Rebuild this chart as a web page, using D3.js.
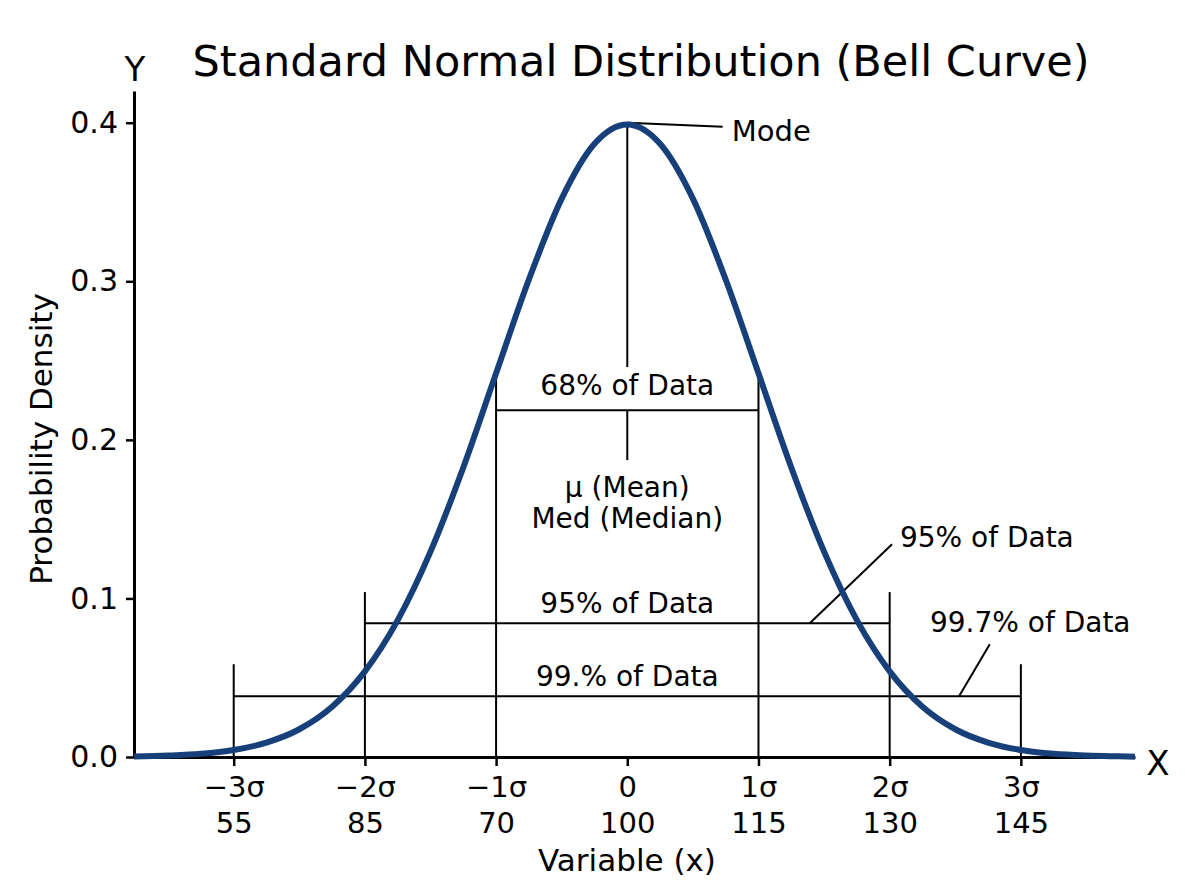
<!DOCTYPE html>
<html>
<head>
<meta charset="utf-8">
<script src="https://cdn.jsdelivr.net/npm/d3@7"></script>
<style>
  body { margin: 0; background: #fff; }
  svg text { font-family: "DejaVu Sans", sans-serif; fill: #000; }
</style>
</head>
<body>
<div id="bellCurve"></div>
<script>
// curve samples (sigma units, density)
const curveX = [-3.76, -3.5, -3.25, -3, -2.75, -2.5, -2.25, -2, -1.75, -1.5, -1.25, -1, -0.75, -0.5, -0.25,
                0, 0.25, 0.5, 0.75, 1, 1.25, 1.5, 1.75, 2, 2.25, 2.5, 2.75, 3, 3.25, 3.5, 3.75, 3.87];
const curveY = [0.0003, 0.0009, 0.0020, 0.0044, 0.0091, 0.0175, 0.0317, 0.0540, 0.0863, 0.1295, 0.1826, 0.2420, 0.3011, 0.3521, 0.3867,
                0.3989, 0.3867, 0.3521, 0.3011, 0.2420, 0.1826, 0.1295, 0.0863, 0.0540, 0.0317, 0.0175, 0.0091, 0.0044, 0.0020, 0.0009, 0.0004, 0.0002];

// x ticks
const sigmaTicks = [-3, -2, -1, 0, 1, 2, 3];
const sigmaLabels = ["\u22123\u03c3", "\u22122\u03c3", "\u22121\u03c3", "0", "1\u03c3", "2\u03c3", "3\u03c3"];
const valueLabels = ["55", "85", "70", "100", "115", "130", "145"];
const yTicks = [0, 0.1, 0.2, 0.3, 0.4];

// bracket bands: range, height of the bar, height of the end posts
const bandLo = [-1, -2, -3];
const bandHi = [1, 2, 3];
const bandBar = [0.2187, 0.0844, 0.0383];
const bandPost = [0.2420, 0.1040, 0.0585];
const bandLabels = ["68% of Data", "95% of Data", "99.% of Data"];
const bandLabelY = [0.2283, 0.0909, 0.0447];

const width = 1200, height = 896;
const margin = {top: 91, right: 65, bottom: 139, left: 134};

const svg = d3.select("#bellCurve")
  .append("svg")
  .attr("width", width)
  .attr("height", height);

const x = d3.scaleLinear()
  .domain([-3.76, 3.87])
  .range([margin.left, width - margin.right]);

const y = d3.scaleLinear()
  .domain([0, 0.42])
  .range([height - margin.bottom, margin.top]);

// title
svg.append("text")
  .attr("x", 641)
  .attr("y", 76)
  .attr("text-anchor", "middle")
  .style("font-size", "43px")
  .text("Standard Normal Distribution (Bell Curve)");

// Y axis
const yAxis = svg.append("g")
  .attr("transform", `translate(${margin.left}, 0)`)
  .call(d3.axisLeft(y).tickValues(yTicks).tickFormat(d3.format(".1f")).tickSize(8).tickSizeOuter(0).tickPadding(8));
yAxis.select(".domain").attr("stroke-width", 3);
yAxis.selectAll(".tick line").attr("stroke-width", 2.5);
yAxis.selectAll(".tick text").style("font-size", "30px").attr("font-family", null);

// X axis
const xAxis = svg.append("g")
  .attr("transform", `translate(0, ${height - margin.bottom})`)
  .call(d3.axisBottom(x).tickValues(sigmaTicks).tickSize(9).tickSizeOuter(0).tickFormat(""));
xAxis.select(".domain").attr("stroke-width", 3);
xAxis.selectAll(".tick line").attr("stroke-width", 2.5);
xAxis.selectAll(".tick text").remove();
xAxis.selectAll(".tick").each(function(d, i) {
  const t = d3.select(this).append("text")
    .attr("text-anchor", "middle")
    .style("font-size", "29px");
  t.append("tspan").attr("x", 0).attr("y", 40).text(sigmaLabels[i]);
  t.append("tspan").attr("x", 0).attr("y", 76).text(valueLabels[i]);
});

// axis labels
svg.append("text")
  .attr("x", 627)
  .attr("y", 871)
  .attr("text-anchor", "middle")
  .style("font-size", "31px")
  .text("Variable (x)");

svg.append("text")
  .attr("transform", `translate(52, 439) rotate(-90)`)
  .attr("text-anchor", "middle")
  .style("font-size", "31px")
  .text("Probability Density");

svg.append("text")
  .attr("x", margin.left + 1)
  .attr("y", 81)
  .attr("text-anchor", "middle")
  .style("font-size", "34px")
  .text("Y");

svg.append("text")
  .attr("x", 1158)
  .attr("y", 775)
  .attr("text-anchor", "middle")
  .style("font-size", "34px")
  .text("X");

// brackets
const ann = svg.append("g").attr("stroke", "#000").attr("stroke-width", 2);

bandLo.forEach(function(lo, i) {
  ann.append("line")
    .attr("x1", x(lo)).attr("x2", x(bandHi[i]))
    .attr("y1", y(bandBar[i])).attr("y2", y(bandBar[i]));
  [lo, bandHi[i]].forEach(function(v) {
    ann.append("line")
      .attr("x1", x(v)).attr("x2", x(v))
      .attr("y1", y(0)).attr("y2", y(bandPost[i]));
  });
  svg.append("text")
    .attr("x", x(0))
    .attr("y", y(bandLabelY[i]))
    .attr("text-anchor", "middle")
    .style("font-size", "28px")
    .text(bandLabels[i]);
});

// mean line (two pieces around the 68% label)
ann.append("line")
  .attr("x1", x(0)).attr("x2", x(0))
  .attr("y1", y(0.3989)).attr("y2", y(0.2459));
ann.append("line")
  .attr("x1", x(0)).attr("x2", x(0))
  .attr("y1", y(0.2187)).attr("y2", y(0.1872));

// leader lines
ann.append("line")
  .attr("x1", x(0)).attr("y1", y(0.3999))
  .attr("x2", x(0.727)).attr("y2", y(0.3974));
ann.append("line")
  .attr("x1", x(1.391)).attr("y1", y(0.0844))
  .attr("x2", x(2.018)).attr("y2", y(0.1342));
ann.append("line")
  .attr("x1", x(2.529)).attr("y1", y(0.0383))
  .attr("x2", x(2.763)).attr("y2", y(0.0711));

svg.append("text")
  .attr("x", x(0.796)).attr("y", y(0.3886))
  .style("font-size", "29px")
  .text("Mode");

const meanText = svg.append("text")
  .attr("text-anchor", "middle")
  .style("font-size", "28px");
meanText.append("tspan").attr("x", x(0)).attr("y", y(0.1640)).text("\u03bc (Mean)");
meanText.append("tspan").attr("x", x(0)).attr("y", y(0.1444)).text("Med (Median)");

svg.append("text")
  .attr("x", x(2.078)).attr("y", y(0.1325))
  .style("font-size", "28px")
  .text("95% of Data");

svg.append("text")
  .attr("x", x(2.307)).attr("y", y(0.0789))
  .style("font-size", "28px")
  .text("99.7% of Data");

// bell curve
const pts = curveX.map((d, i) => [d, curveY[i]]);
svg.append("path")
  .datum(pts)
  .attr("fill", "none")
  .attr("stroke", "#17407a")
  .attr("stroke-width", 6)
  .attr("d", d3.line()
    .x(d => x(d[0]))
    .y(d => y(d[1]))
    .curve(d3.curveMonotoneX));
</script>
</body>
</html>
